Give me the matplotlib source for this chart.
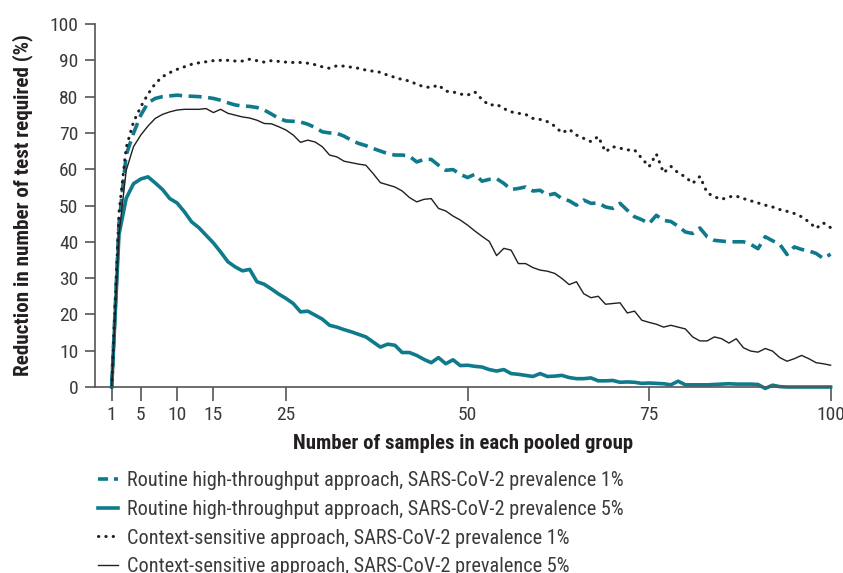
import matplotlib
matplotlib.use("Agg")
import matplotlib.pyplot as plt
from matplotlib import font_manager
from matplotlib.textpath import TextPath
from matplotlib.font_manager import FontProperties

# pool sizes 1..100
pool_size = list(range(1, 101))

# routine high-throughput, prevalence 1% (dashed teal)
routine_1 = [0, 45, 64, 69.9, 74.9, 78.3, 79.5, 80, 80.2, 80.4,
             80.2, 80.1, 80, 79.8, 79.5, 79, 78.3, 77.7, 77.4, 77.3,
             77, 76.3, 75.2, 74, 73.3, 73.2, 73, 72.4, 71.5, 70.3,
             70, 69.9, 69.1, 68, 67.1, 66.5, 65.7, 65, 64.3, 63.9,
             63.9, 63.6, 62, 62.7, 62.7, 61.1, 59.7, 59.9, 58.6, 57.7,
             58.6, 56.7, 57.2, 57.4, 56.1, 54.4, 54.7, 55.1, 54, 54.2,
             52.8, 53.3, 51.9, 51.3, 50.1, 51.5, 50.6, 50.7, 49.6, 49.2,
             50.6, 48.7, 46.9, 46.1, 45, 47.3, 45.9, 45.6, 44.3, 42.7,
             42.3, 43.8, 41.4, 40.4, 40.2, 40, 40, 40, 39.3, 38.1,
             41.4, 40.3, 39.3, 36.5, 38.6, 37.9, 37.5, 36.8, 35.4, 36.6]

# routine high-throughput, prevalence 5% (solid teal)
routine_5 = [0, 42, 52, 56, 57.3, 57.9, 56.2, 54.4, 51.9, 50.7,
             48.3, 45.5, 43.9, 41.8, 39.7, 37.2, 34.5, 33.1, 32, 32.4,
             29, 28.3, 27, 25.6, 24.4, 23, 20.7, 20.9, 19.8, 18.7,
             17, 16.5, 15.8, 15.2, 14.5, 13.8, 12.4, 11, 11.8, 11.5,
             9.5, 9.5, 8.7, 7.6, 6.7, 8.1, 6.4, 7.5, 5.9, 6,
             5.7, 5.5, 4.8, 4.4, 4.8, 3.7, 3.5, 3.2, 2.9, 3.7,
             2.9, 3, 3.2, 2.6, 2.3, 2.3, 2.5, 1.7, 1.7, 1.8,
             1.3, 1.4, 1.3, 1, 1.1, 1, 0.9, 0.6, 1.6, 0.6,
             0.6, 0.6, 0.6, 0.7, 0.8, 0.9, 0.8, 0.8, 0.8, 0.7,
             -0.4, 0.5, 0.1, 0, 0, 0, 0, 0, 0, 0]

# context-sensitive, prevalence 1% (dotted black)
context_1 = [0, 48, 66, 73, 77.2, 80.7, 83.6, 85.5, 86.6, 87.5,
             88.2, 88.9, 89.3, 89.6, 89.9, 90, 90, 89.8, 89.8, 90.3,
             89.9, 89.5, 89.9, 89.7, 89.5, 89.4, 89.4, 89.2, 88.8, 88.2,
             87.8, 88.5, 88.4, 88.1, 87.8, 87.3, 87, 86.7, 85.9, 85.3,
             84.7, 84.3, 83.4, 82.7, 82.5, 83.2, 81.5, 81.3, 80.7, 80.4,
             81.3, 79.2, 77.6, 77.9, 76.7, 75.8, 75.4, 75.1, 74, 73.7,
             73.1, 71.9, 70, 71, 69.4, 68.5, 67.6, 69, 64.8, 66.2,
             65.8, 65.3, 65.3, 63, 60.7, 64.2, 59, 60.8, 59, 57.9,
             56.1, 58, 53.5, 52.4, 51.7, 52.4, 52.6, 51.9, 51.3, 50.7,
             50.1, 49.6, 48.9, 48.4, 47.8, 46.9, 45.5, 43.7, 45.2, 43.9]

# context-sensitive, prevalence 5% (solid black)
context_5 = [0, 42, 59.7, 66.2, 69.4, 71.9, 74, 75.1, 75.8, 76.3,
             76.5, 76.5, 76.5, 76.7, 75.6, 76.5, 75.4, 74.9, 74.4, 74.1,
             73.5, 72.6, 72.5, 71.7, 70.8, 69.4, 67.4, 68, 67.5, 66.2,
             63.9, 63.4, 62.2, 61.8, 61.4, 61.1, 58.8, 56.3, 55.7, 55.1,
             54, 52.2, 51, 51.7, 51.9, 49.2, 48.5, 47.1, 46, 44.6,
             43, 41.5, 40.1, 36.2, 38.2, 37.7, 34, 34, 32.9, 32.2,
             31.9, 31.3, 29.9, 28.2, 29, 25.7, 24.6, 25, 22.8, 23,
             23.2, 20.4, 20.9, 18.4, 17.8, 17.3, 16.5, 17, 16.5, 16,
             13.8, 12.7, 12.7, 13.8, 13.3, 12.1, 13.3, 10.8, 9.9, 9.6,
             10.6, 9.9, 8.1, 7.1, 7.8, 8.7, 7.8, 6.7, 6.4, 6]

x_ticks = [1, 5, 10, 15, 25, 50, 75, 100]
y_ticks = list(range(0, 101, 10))

labels = ["Routine high-throughput approach, SARS-CoV-2 prevalence 1%",
          "Routine high-throughput approach, SARS-CoV-2 prevalence 5%",
          "Context-sensitive approach, SARS-CoV-2 prevalence 1%",
          "Context-sensitive approach, SARS-CoV-2 prevalence 5%"]
x_title = "Number of samples in each pooled group"
y_title = "Reduction in number of test required (%)"

teal = "#0e7a8b"
dark = "#231f20"
grey = "#3a3a3a"

# condensed face if one is around, else Liberation Sans
installed = {f.name for f in font_manager.fontManager.ttflist}
wanted = ["Roboto Condensed", "Fira Sans Condensed", "PT Sans Narrow",
          "Open Sans Condensed", "Liberation Sans Narrow", "Liberation Sans"]
face = next((n for n in wanted if n in installed), "DejaVu Sans")
plt.rcParams["font.family"] = [face, "DejaVu Sans"]


def fit_size(text, target_px, weight="normal", cap=16):
    # font size (pt) that gives the text the width it has in the reference
    fp = FontProperties(family=[face, "DejaVu Sans"], weight=weight, size=10)
    w = TextPath((0, 0), text, prop=fp).get_extents().width  # in pt at size 10
    return min(cap, 10 * target_px / (w * 100 / 72))


leg_size = fit_size(labels[0], 493, cap=15)
xlab_size = fit_size(x_title, 339, weight="bold", cap=17)
ylab_size = fit_size(y_title, 340, weight="bold", cap=17)
tick_size = fit_size("100", 28, cap=14)

# row pitch of 30 px in the legend
leg_px = leg_size * 100 / 72
leg_spacing = max(0.2, 30 / leg_px - 1)
# handle 20 px long, text starting 9 px after it
handle_len = 20 / leg_px
text_pad = 9 / leg_px

fig = plt.figure(figsize=(8.43, 5.73), dpi=100)
ax = fig.add_axes([0.1127, 0.3246, 0.8726, 0.6335])

ax.plot(pool_size, routine_1, color=teal, lw=2.6, ls=(0, (3.6, 1.8)), clip_on=False, label=labels[0])
ax.plot(pool_size, routine_5, color=teal, lw=2.6, clip_on=False, label=labels[1])
ax.plot(pool_size, context_1, color=dark, lw=2.2, ls=(0, (0.1, 2.3)), dash_capstyle="round",
        clip_on=False, label=labels[2])
ax.plot(pool_size, context_5, color=dark, lw=1.0, clip_on=False, label=labels[3])

ax.set_xlim(-1.3, 100)
ax.set_ylim(0, 100)
ax.set_xticks(x_ticks)
ax.set_yticks(y_ticks)
ax.tick_params(axis="x", length=10, width=1.2, color="#555555", labelsize=tick_size, labelcolor=grey, pad=4)
ax.tick_params(axis="y", length=7, width=1.2, color="#555555", labelsize=tick_size, labelcolor=grey, pad=5)
for s in ["top", "right"]:
    ax.spines[s].set_visible(False)
for s in ["left", "bottom"]:
    ax.spines[s].set_color("#555555")
    ax.spines[s].set_linewidth(1.2)

ax.set_xlabel(x_title, fontsize=xlab_size, fontweight="bold", color=dark, labelpad=7)
ax.set_ylabel(y_title, fontsize=ylab_size, fontweight="bold", color=dark, labelpad=12)

leg = fig.legend(loc="upper left", bbox_to_anchor=(0.116, 0.178), frameon=False,
                 fontsize=leg_size, handlelength=handle_len, handletextpad=text_pad,
                 labelspacing=leg_spacing, borderaxespad=0, borderpad=0)
for t in leg.get_texts():
    t.set_color(grey)
# two short dashes in the legend key, as in the original
leg.legend_handles[0].set_linestyle((0, (2.8, 1.6)))

fig.savefig("out.png", dpi=100)
